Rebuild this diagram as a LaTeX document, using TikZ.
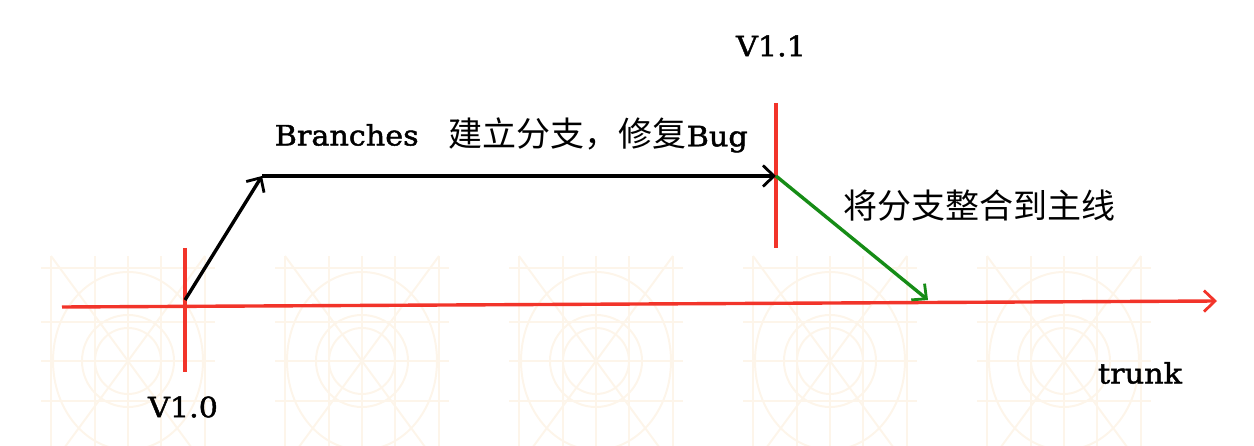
\documentclass[tikz,border=0pt]{standalone}
\usepackage{fontspec}
\usepackage{tikz}
\usetikzlibrary{arrows.meta}
\setmainfont{DejaVu Serif}[FakeStretch=1.08, FakeBold=1.6]
\newfontfamily\cjk{Noto Sans CJK SC}
\definecolor{gridtan}{RGB}{253,245,234}
\definecolor{trunkred}{RGB}{242,52,42}
\definecolor{mergegreen}{RGB}{22,140,22}

\begin{document}
\begin{tikzpicture}[x=1pt, y=-1pt, line width=3.4pt,
  lbl/.style={font=\fontsize{28}{32}\selectfont},
  zh/.style={font=\cjk\fontsize{34}{38}\selectfont},
  tip/.style={-{Straight Barb[length=11pt,width=21pt,line width=2.8pt]}}]
\useasboundingbox (0,0) rectangle (1254,446);
\clip (0,0) rectangle (1254,446);
\foreach \cx in {128,362,596,830,1064}{
 \begin{scope}[shift={(\cx,361)}, color=gridtan, line width=2pt]
  \foreach \d in {-77,-33,0,33,77} \draw (\d,-105) -- (\d,105);
  \foreach \d in {-93,-39,0,40,93} \draw (-87,\d) -- (87,\d);
  \draw (-77,-105) -- (77,105) (77,-105) -- (-77,105);
  \draw (0,0) ellipse (75 and 89);
  \draw (0,0) circle (46) (0,0) circle (33);
 \end{scope}}

\coordinate (t0) at (62,307);
\coordinate (t1) at (1217,301);
\coordinate (v10) at (185,300);
\coordinate (v10top) at (185,248);
\coordinate (v10bot) at (185,372);
\coordinate (brk) at (262,176);
\coordinate (fix) at (776,176);
\coordinate (v11top) at (776,103);
\coordinate (v11bot) at (776,248);
\coordinate (mrg) at (928,300);

\draw[trunkred, tip] (t0) -- (t1);
\draw[trunkred] (v10top) -- (v10bot);
\draw[trunkred] (v11top) -- (v11bot);
\draw[tip] (v10) -- (brk);
\draw[tip] (brk) -- (fix);
\draw[mergegreen, tip] (fix) -- (mrg);

\node[lbl] (n10) at (183,407) {V1.0};
\node[lbl] (n11) at (771,46) {V1.1};
\node[lbl, anchor=west, inner sep=0pt] (br) at (273,135) {Branches};
\node[zh, anchor=west, inner sep=0pt] (fixlbl) at (447,135) {建立分支，修复{\rmfamily\fontsize{28}{32}\selectfont Bug}};
\node[zh, anchor=west, inner sep=0pt] (mrglbl) at (842,206) {将分支整合到主线};
\node[lbl] (trk) at (1140,373) {trunk};
\end{tikzpicture}
\end{document}
